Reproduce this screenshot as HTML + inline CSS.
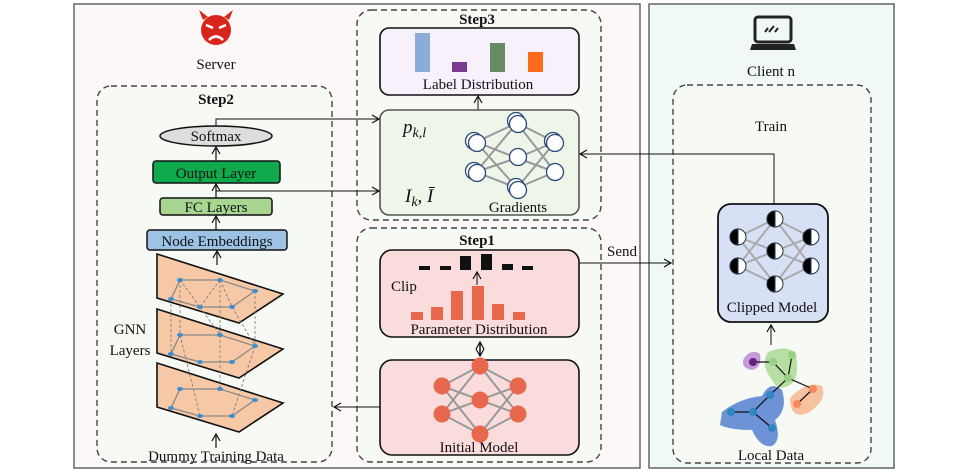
<!DOCTYPE html>
<html><head><meta charset="utf-8"><style>body{margin:0;background:#fff}svg{display:block}text{font-family:"Liberation Serif",serif;fill:#111}</style></head><body>
<svg width="971" height="472" viewBox="0 0 971 472" xmlns="http://www.w3.org/2000/svg">
<defs>
<marker id="a" markerWidth="10" markerHeight="10" refX="8" refY="5" orient="auto" markerUnits="userSpaceOnUse"><path d="M1,1 L8,5 L1,9" fill="none" stroke="#111" stroke-width="1.2"/></marker>
<marker id="b" markerWidth="10" markerHeight="10" refX="2" refY="5" orient="auto" markerUnits="userSpaceOnUse"><path d="M9,1 L2,5 L9,9" fill="none" stroke="#111" stroke-width="1.2"/></marker>
<g id="pl"><polygon points="157,254 283,294 239,323 157,298" fill="#f7c8a6" stroke="#111" stroke-width="1.6"/></g>
</defs>
<rect x="74" y="4" width="566" height="464" fill="#fdf7f7" stroke="#666" stroke-width="1.5"/>
<rect x="649" y="4" width="245" height="464" fill="#f1f9f8" stroke="#666" stroke-width="1.5"/>
<!-- devil -->
<circle cx="216" cy="30" r="15" fill="#d9261c"/><path d="M203,20 L199,10 L208,17Z M229,20 L233,10 L224,17Z" fill="#d9261c"/>
<path d="M206,25 L213,28 M226,25 L219,28" stroke="#fff" stroke-width="2.5"/><path d="M209,40 Q216,33 223,40" stroke="#fff" stroke-width="2.5" fill="none"/>
<text x="216" y="69" font-size="15" text-anchor="middle">Server</text>
<!-- laptop -->
<rect x="755" y="17" width="36" height="25" rx="3" fill="none" stroke="#222" stroke-width="3"/>
<path d="M765,32 l3,-4 M769,32 l5,-6 M775,32 l3,-4" stroke="#222" stroke-width="2"/>
<path d="M752,44 L794,44 L796,50 L750,50Z" fill="#222"/>
<text x="771" y="76" font-size="15" text-anchor="middle">Client n</text>
<!-- dashed groups -->
<g fill="#f6f9f4" stroke="#444" stroke-width="1.4" stroke-dasharray="6,4">
<rect x="97" y="86" width="235" height="376" rx="14"/>
<rect x="357" y="10" width="244" height="210" rx="14"/>
<rect x="357" y="228" width="244" height="234" rx="14"/>
<rect x="673" y="85" width="198" height="378" rx="14"/>
</g>
<text x="216" y="104" font-size="15" font-weight="bold" text-anchor="middle">Step2</text>
<text x="477" y="24" font-size="15" font-weight="bold" text-anchor="middle">Step3</text>
<text x="477" y="245" font-size="15" font-weight="bold" text-anchor="middle">Step1</text>
<text x="771" y="131" font-size="15" text-anchor="middle">Train</text>
<!-- Step3 -->
<rect x="380" y="28" width="199" height="67" rx="9" fill="#f7f1fc" stroke="#111" stroke-width="1.6"/>
<rect x="415" y="33" width="15" height="39" fill="#8aacd6"/><rect x="452" y="62" width="15" height="10" fill="#7a3a90"/>
<rect x="490" y="43" width="15" height="29" fill="#678a62"/><rect x="528" y="52" width="15" height="20" fill="#ff6a1a"/>
<text x="478" y="89" font-size="15" text-anchor="middle">Label Distribution</text>
<line x1="478" y1="110" x2="478" y2="96" stroke="#111" marker-end="url(#a)"/>
<rect x="380" y="110" width="199" height="105" rx="9" fill="#eef6ea" stroke="#555" stroke-width="1.6"/>
<text x="403" y="133" font-size="19" font-style="italic">p<tspan font-size="14" dy="4">k,l</tspan></text>
<text x="405" y="202" font-size="19" font-style="italic">I<tspan font-size="14" dy="4">k</tspan><tspan dy="-4">, Ī</tspan></text>
<g stroke="#999" stroke-width="2"><path d="M476,142 L517,123 M476,142 L517,158 M476,142 L517,188 M476,172 L517,123 M476,172 L517,158 M476,172 L517,188 M517,123 L555,142 M517,158 L555,142 M517,188 L555,142 M517,123 L555,172 M517,158 L555,172 M517,188 L555,172"/></g>
<g fill="#fff" stroke="#2a4a78" stroke-width="1.3"><circle cx="474" cy="141" r="8.5"/><circle cx="477" cy="143" r="8.5"/><circle cx="474" cy="171" r="8.5"/><circle cx="477" cy="173" r="8.5"/><circle cx="516" cy="121" r="8.5"/><circle cx="518" cy="124" r="8.5"/><circle cx="518" cy="157" r="8.5"/><circle cx="516" cy="187" r="8.5"/><circle cx="518" cy="190" r="8.5"/><circle cx="553" cy="141" r="8.5"/><circle cx="555" cy="143" r="8.5"/><circle cx="555" cy="172" r="8.5"/></g>
<text x="518" y="212" font-size="15" text-anchor="middle">Gradients</text>
<!-- Step1 -->
<rect x="380" y="250" width="199" height="87" rx="12" fill="#fbdcdc" stroke="#111" stroke-width="1.6"/>
<g fill="#111"><rect x="419" y="266" width="11" height="4"/><rect x="440" y="266" width="11" height="4"/><rect x="460" y="256" width="11" height="14"/><rect x="481" y="254" width="11" height="16"/><rect x="502" y="264" width="11" height="6"/><rect x="522" y="266" width="11" height="4"/></g>
<line x1="477" y1="285" x2="477" y2="272" stroke="#111" marker-end="url(#a)"/>
<text x="391" y="291" font-size="15">Clip</text>
<g fill="#e7684d"><rect x="411" y="312" width="12" height="8"/><rect x="431" y="307" width="12" height="13"/><rect x="451" y="291" width="12" height="29"/><rect x="472" y="286" width="12" height="34"/><rect x="492" y="304" width="12" height="16"/><rect x="513" y="312" width="12" height="8"/></g>
<text x="479" y="334" font-size="15" text-anchor="middle">Parameter Distribution</text>
<line x1="480" y1="342" x2="480" y2="356" stroke="#111" stroke-width="1.5" marker-start="url(#b)" marker-end="url(#a)"/>
<rect x="380" y="360" width="199" height="95" rx="12" fill="#fbdcdc" stroke="#111" stroke-width="1.6"/>
<g stroke="#999" stroke-width="2"><path d="M442,386 L480,366 M442,386 L480,400 M442,386 L480,434 M442,414 L480,366 M442,414 L480,400 M442,414 L480,434 M480,366 L518,386 M480,400 L518,386 M480,434 L518,386 M480,366 L518,414 M480,400 L518,414 M480,434 L518,414"/></g>
<g fill="#e7684d"><circle cx="442" cy="386" r="8.5"/><circle cx="442" cy="414" r="8.5"/><circle cx="480" cy="366" r="8.5"/><circle cx="480" cy="400" r="8.5"/><circle cx="480" cy="434" r="8.5"/><circle cx="518" cy="386" r="8.5"/><circle cx="518" cy="414" r="8.5"/></g>
<text x="479" y="452" font-size="15" text-anchor="middle">Initial Model</text>
<line x1="380" y1="407" x2="334" y2="407" stroke="#111" marker-end="url(#a)"/>
<!-- Step2 stack -->
<ellipse cx="216" cy="136" rx="56" ry="10" fill="#ddd" stroke="#111" stroke-width="1.5"/>
<text x="216" y="141" font-size="15" text-anchor="middle">Softmax</text>
<rect x="153" y="161" width="127" height="22" rx="3" fill="#0eaa4c" stroke="#111" stroke-width="1.5"/>
<text x="216" y="178" font-size="15" text-anchor="middle">Output Layer</text>
<rect x="160" y="198" width="112" height="17" rx="3" fill="#a8d590" stroke="#111" stroke-width="1.5"/>
<text x="216" y="212" font-size="15" text-anchor="middle">FC Layers</text>
<rect x="147" y="230" width="140" height="20" rx="3" fill="#9cc3e6" stroke="#111" stroke-width="1.5"/>
<text x="217" y="246" font-size="15" text-anchor="middle">Node Embeddings</text>
<g stroke="#111" stroke-width="1.2"><line x1="216" y1="161" x2="216" y2="147" marker-end="url(#a)"/><line x1="216" y1="198" x2="216" y2="184" marker-end="url(#a)"/><line x1="216" y1="230" x2="216" y2="216" marker-end="url(#a)"/><line x1="217" y1="265" x2="217" y2="251" marker-end="url(#a)"/><line x1="216" y1="448" x2="216" y2="434" marker-end="url(#a)"/></g>
<path d="M216,126 L216,119 L379,119" fill="none" stroke="#111" marker-end="url(#a)"/>
<path d="M216,191 L379,191" fill="none" stroke="#111" marker-end="url(#a)"/>
<use href="#pl"/><use href="#pl" y="55"/><use href="#pl" y="109"/>
<g stroke="#777" stroke-width="0.8" stroke-dasharray="3,2" fill="none"><path d="M180,280 L180,335 M220,280 L220,335 M255,291 L255,346 M171,299 L171,354 M200,307 L220,335 M232,307 L255,346 M180,335 L200,416 M220,335 L220,389 M255,346 L232,416 M180,280 L200,307 M220,280 L232,307 M220,280 L200,307"/></g>
<g id="gn"><path d="M180,280 L220,280 L255,291 L232,307 L200,307 L171,299 Z" fill="none" stroke="#888" stroke-width="1.3"/>
<g fill="#3a8fd0"><ellipse cx="180" cy="280" rx="3" ry="2"/><ellipse cx="220" cy="280" rx="3" ry="2"/><ellipse cx="255" cy="291" rx="3" ry="2"/><ellipse cx="232" cy="307" rx="3" ry="2"/><ellipse cx="200" cy="307" rx="3" ry="2"/><ellipse cx="171" cy="299" rx="3" ry="2"/></g></g>
<use href="#gn" y="55"/><use href="#gn" y="109"/>
<text x="130" y="334" font-size="15" text-anchor="middle">GNN</text><text x="130" y="355" font-size="15" text-anchor="middle">Layers</text>
<text x="216" y="461" font-size="15" text-anchor="middle">Dummy Training Data</text>
<!-- client -->
<path d="M774,204 L774,154 L580,154" fill="none" stroke="#111" marker-end="url(#a)"/>
<path d="M579,263 L671,263" fill="none" stroke="#111" marker-end="url(#a)"/>
<text x="622" y="256" font-size="15" text-anchor="middle">Send</text>
<rect x="718" y="204" width="110" height="118" rx="13" fill="#d7e0f4" stroke="#111" stroke-width="1.8"/>
<g stroke="#aaa" stroke-width="2"><path d="M738,237 L775,219 M738,237 L775,251 M738,237 L775,284 M738,266 L775,219 M738,266 L775,251 M738,266 L775,284 M775,219 L811,237 M775,251 L811,237 M775,284 L811,237 M775,219 L811,266 M775,251 L811,266 M775,284 L811,266"/></g>
<g stroke="#234" stroke-width="1"><g id="hn"><circle cx="738" cy="237" r="8" fill="#fff"/><path d="M738,229 A8,8 0 0 0 738,245Z" fill="#000"/></g>
<use href="#hn" y="29"/><use href="#hn" x="37" y="-18"/><use href="#hn" x="37" y="14"/><use href="#hn" x="37" y="47"/><use href="#hn" x="73"/><use href="#hn" x="73" y="29"/></g>
<text x="772" y="312" font-size="15" text-anchor="middle">Clipped Model</text>
<line x1="771" y1="345" x2="771" y2="325" stroke="#111" marker-end="url(#a)"/>
<path d="M744,358 Q752,348 760,354 Q762,368 752,370 Q740,368 744,358Z" fill="#c59ad8"/>
<path d="M768,352 Q790,343 796,356 Q800,378 790,385 Q778,392 772,380 Q760,365 768,352Z" fill="#b9dea4"/>
<path d="M790,398 Q808,380 822,386 Q828,400 808,413 Q790,420 790,398Z" fill="#f7c09e"/>
<path d="M722,412 Q740,398 762,396 Q770,380 782,390 Q788,410 775,420 Q782,440 772,446 Q760,448 752,430 Q730,430 720,425Z" fill="#6d93d6"/>
<path d="M753,362 L773,362 L788,378 L792,355 M788,378 L813,389 L797,404 M788,378 L770,395 L753,412 L731,412 M753,412 L772,428" fill="none" stroke="#111" stroke-width="1.2"/>
<g><circle cx="753" cy="362" r="4" fill="#6a1f80"/><circle cx="773" cy="362" r="4" fill="#9acf86"/><circle cx="792" cy="355" r="4" fill="#9acf86"/><circle cx="788" cy="378" r="4" fill="#9acf86"/><circle cx="813" cy="389" r="4" fill="#f48a5e"/><circle cx="797" cy="404" r="4" fill="#f48a5e"/><circle cx="770" cy="395" r="4" fill="#2f86c0"/><circle cx="753" cy="412" r="4" fill="#2f86c0"/><circle cx="731" cy="412" r="4" fill="#2f86c0"/><circle cx="772" cy="428" r="4" fill="#2f86c0"/></g>
<text x="771" y="460" font-size="15" text-anchor="middle">Local Data</text>
</svg>
</body></html>
